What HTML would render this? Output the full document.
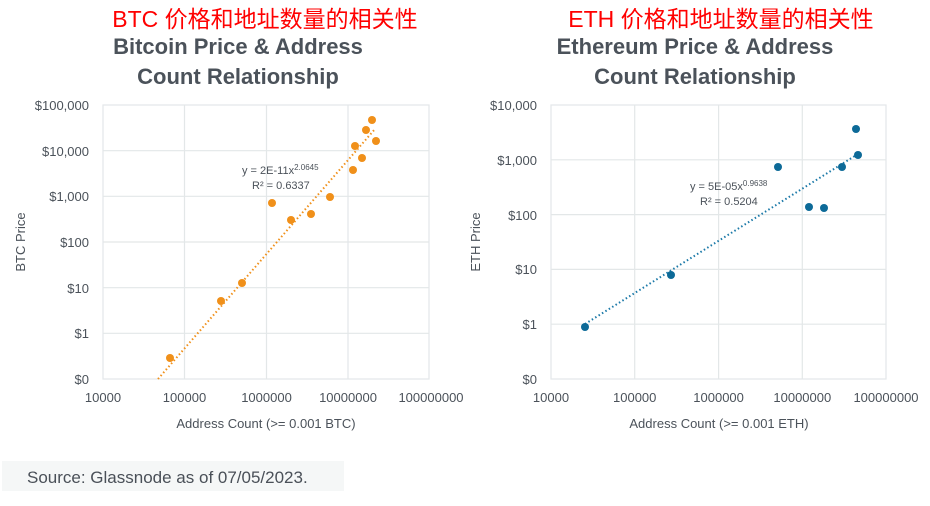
<!DOCTYPE html>
<html><head><meta charset="utf-8"><style>
html,body{margin:0;padding:0;background:#fff;}
svg{display:block;font-family:"Liberation Sans","Noto Sans CJK SC",sans-serif;}
</style></head><body>
<svg width="930" height="506" viewBox="0 0 930 506" xmlns="http://www.w3.org/2000/svg">
<rect width="930" height="506" fill="#fff"/>
<!-- titles -->
<text x="265" y="27" font-size="23" fill="#f00" text-anchor="middle">BTC 价格和地址数量的相关性</text>
<text x="238" y="54" font-size="22" font-weight="bold" fill="#4b525a" text-anchor="middle">Bitcoin Price &amp; Address</text>
<text x="238" y="84" font-size="22" font-weight="bold" fill="#4b525a" text-anchor="middle">Count Relationship</text>
<text x="721" y="27" font-size="23" fill="#f00" text-anchor="middle">ETH 价格和地址数量的相关性</text>
<text x="695" y="54" font-size="22" font-weight="bold" fill="#4b525a" text-anchor="middle">Ethereum Price &amp; Address</text>
<text x="695" y="84" font-size="22" font-weight="bold" fill="#4b525a" text-anchor="middle">Count Relationship</text>

<!-- BTC chart -->
<g stroke="#e3e7e8" stroke-width="1.2" fill="none">
<rect x="103" y="105" width="326" height="274"/>
<line x1="184.5" y1="105" x2="184.5" y2="379"/><line x1="266.5" y1="105" x2="266.5" y2="379"/><line x1="348" y1="105" x2="348" y2="379"/>
<line x1="103" y1="150.7" x2="429" y2="150.7"/><line x1="103" y1="196.3" x2="429" y2="196.3"/><line x1="103" y1="242" x2="429" y2="242"/><line x1="103" y1="287.7" x2="429" y2="287.7"/><line x1="103" y1="333.3" x2="429" y2="333.3"/>
</g>
<g font-size="13" fill="#4b525a" text-anchor="end">
<text x="89" y="110">$100,000</text><text x="89" y="156">$10,000</text><text x="89" y="201">$1,000</text><text x="89" y="247">$100</text><text x="89" y="293">$10</text><text x="89" y="338">$1</text><text x="89" y="384">$0</text>
</g>
<g font-size="13" fill="#4b525a" text-anchor="middle">
<text x="103" y="402">10000</text><text x="184.5" y="402">100000</text><text x="266.5" y="402">1000000</text><text x="348" y="402">10000000</text><text x="431" y="402">100000000</text>
<text x="266" y="428">Address Count (&gt;= 0.001 BTC)</text>
</g>
<text transform="translate(25,242) rotate(-90)" font-size="13" fill="#4b525a" text-anchor="middle">BTC Price</text>
<line x1="158" y1="379" x2="375" y2="129" stroke="#f0901a" stroke-width="2" stroke-dasharray="1.5,2.5"/>
<text x="242" y="174" font-size="11" fill="#4b525a">y = 2E-11x<tspan font-size="8" dy="-4">2.0645</tspan></text>
<text x="252" y="189" font-size="11" fill="#4b525a">R² = 0.6337</text>
<g fill="#f0901a">
<circle cx="170" cy="358" r="4"/><circle cx="221" cy="301" r="4"/><circle cx="242" cy="283" r="4"/><circle cx="272" cy="203" r="4"/><circle cx="291" cy="220" r="4"/><circle cx="311" cy="214" r="4"/><circle cx="330" cy="197" r="4"/><circle cx="353" cy="170" r="4"/><circle cx="355" cy="146" r="4"/><circle cx="362" cy="158" r="4"/><circle cx="366" cy="130" r="4"/><circle cx="372" cy="120" r="4"/><circle cx="376" cy="141" r="4"/>
</g>

<!-- ETH chart -->
<g stroke="#e3e7e8" stroke-width="1.2" fill="none">
<rect x="551" y="105" width="335" height="274"/>
<line x1="634.7" y1="105" x2="634.7" y2="379"/><line x1="718.6" y1="105" x2="718.6" y2="379"/><line x1="802.3" y1="105" x2="802.3" y2="379"/>
<line x1="551" y1="159.8" x2="886" y2="159.8"/><line x1="551" y1="214.6" x2="886" y2="214.6"/><line x1="551" y1="269.4" x2="886" y2="269.4"/><line x1="551" y1="324.2" x2="886" y2="324.2"/>
</g>
<g font-size="13" fill="#4b525a" text-anchor="end">
<text x="537" y="110">$10,000</text><text x="537" y="165">$1,000</text><text x="537" y="220">$100</text><text x="537" y="274">$10</text><text x="537" y="329">$1</text><text x="537" y="384">$0</text>
</g>
<g font-size="13" fill="#4b525a" text-anchor="middle">
<text x="551" y="402">10000</text><text x="634.7" y="402">100000</text><text x="718.6" y="402">1000000</text><text x="802.3" y="402">10000000</text><text x="886" y="402">100000000</text>
<text x="719" y="428">Address Count (&gt;= 0.001 ETH)</text>
</g>
<text transform="translate(480,242) rotate(-90)" font-size="13" fill="#4b525a" text-anchor="middle">ETH Price</text>
<line x1="585" y1="324" x2="858" y2="154" stroke="#1b79a8" stroke-width="2" stroke-dasharray="1.5,2.5"/>
<text x="690" y="190" font-size="11" fill="#4b525a">y = 5E-05x<tspan font-size="8" dy="-4">0.9638</tspan></text>
<text x="700" y="205" font-size="11" fill="#4b525a">R² = 0.5204</text>
<g fill="#0d6a98">
<circle cx="585" cy="327" r="4"/><circle cx="671" cy="275" r="4"/><circle cx="778" cy="167" r="4"/><circle cx="809" cy="207" r="4"/><circle cx="824" cy="208" r="4"/><circle cx="842" cy="167" r="4"/><circle cx="856" cy="129" r="4"/><circle cx="858" cy="155" r="4"/>
</g>

<!-- source -->
<rect x="2" y="461" width="342" height="30" fill="#f5f7f7"/>
<text x="27" y="483" font-size="17" fill="#4a5058">Source: Glassnode as of 07/05/2023.</text>
</svg>
</body></html>
